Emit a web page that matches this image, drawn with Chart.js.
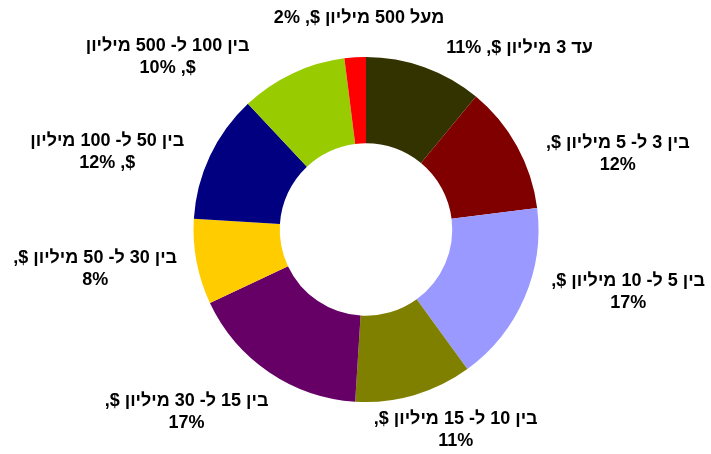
<!DOCTYPE html>
<html lang="he">
<head>
<meta charset="utf-8">
<script src="https://cdn.jsdelivr.net/npm/chart.js@4/dist/chart.umd.min.js"></script>
<style>
  html, body { margin: 0; padding: 0; background: #fff; }
  #wrap { width: 711px; height: 454px; }
</style>
</head>
<body>
<div id="wrap"><canvas id="myChart"></canvas></div>
<script>
// slices, clockwise from 12 o'clock
const categories = [
  'עד 3 מיליון $',
  'בין 3 ל- 5 מיליון $',
  'בין 5 ל- 10 מיליון $',
  'בין 10 ל- 15 מיליון $',
  'בין 15 ל- 30 מיליון $',
  'בין 30 ל- 50 מיליון $',
  'בין 50 ל- 100 מיליון $',
  'בין 100 ל- 500 מיליון $',
  'מעל 500 מיליון $'
];
const shares = [11, 12, 17, 11, 17, 8, 12, 10, 2];
const colors = ['#333300', '#800000', '#9999FF', '#808000', '#660066', '#FFCC00', '#000080', '#99CC00', '#FF0000'];

// how each label wraps: none / before the percent / before the "$,"
const wrapStyle = ['none', 'pct', 'pct', 'pct', 'pct', 'pct', 'dollar', 'dollar', 'none'];
// label centre relative to doughnut centre, in units of the outer radius
const labelSpot = [
  [0.89, -1.05], [1.46, -0.435], [1.52, 0.36], [0.52, 1.16], [-1.04, 1.06],
  [-1.57, 0.23], [-1.50, -0.45], [-1.15, -1.0], [-0.04, -1.225]
];

function labelLines(i) {
  const cat = categories[i];
  const pct = shares[i] + '%';
  if (wrapStyle[i] === 'pct') return [cat + ',', pct];
  if (wrapStyle[i] === 'dollar') return [cat.replace(/ \$$/, ''), '$, ' + pct];
  return [cat + ', ' + pct];
}

const outsideLabels = {
  id: 'outsideLabels',
  afterDatasetsDraw(chart) {
    const ctx = chart.ctx;
    const arcs = chart.getDatasetMeta(0).data;
    if (!arcs.length) return;
    const cx = arcs[0].x, cy = arcs[0].y, r = arcs[0].outerRadius;
    ctx.save();
    ctx.font = 'bold 18px "Liberation Sans", Arial, sans-serif';
    ctx.fillStyle = '#000';
    ctx.textAlign = 'center';
    ctx.textBaseline = 'middle';
    ctx.direction = 'rtl';
    const lh = 22;
    arcs.forEach((arc, i) => {
      const lines = labelLines(i);
      const x = cx + labelSpot[i][0] * r;
      const y0 = cy + labelSpot[i][1] * r - (lines.length - 1) * lh / 2;
      lines.forEach((t, k) => ctx.fillText(t, x, y0 + k * lh));
    });
    ctx.restore();
  }
};

const ctx = document.getElementById('myChart').getContext('2d');
new Chart(ctx, {
  type: 'doughnut',
  data: {
    labels: categories,
    datasets: [{
      data: shares,
      backgroundColor: colors,
      borderWidth: 0,
      hoverOffset: 0,
      offset: 0
    }]
  },
  options: {
    responsive: true,
    maintainAspectRatio: false,
    animation: false,
    cutout: '50%',
    layout: { padding: { top: 57, bottom: 52, left: 150, right: 129 } },
    plugins: {
      legend: { display: false },
      tooltip: { enabled: false }
    }
  },
  plugins: [outsideLabels]
});
</script>
</body>
</html>
